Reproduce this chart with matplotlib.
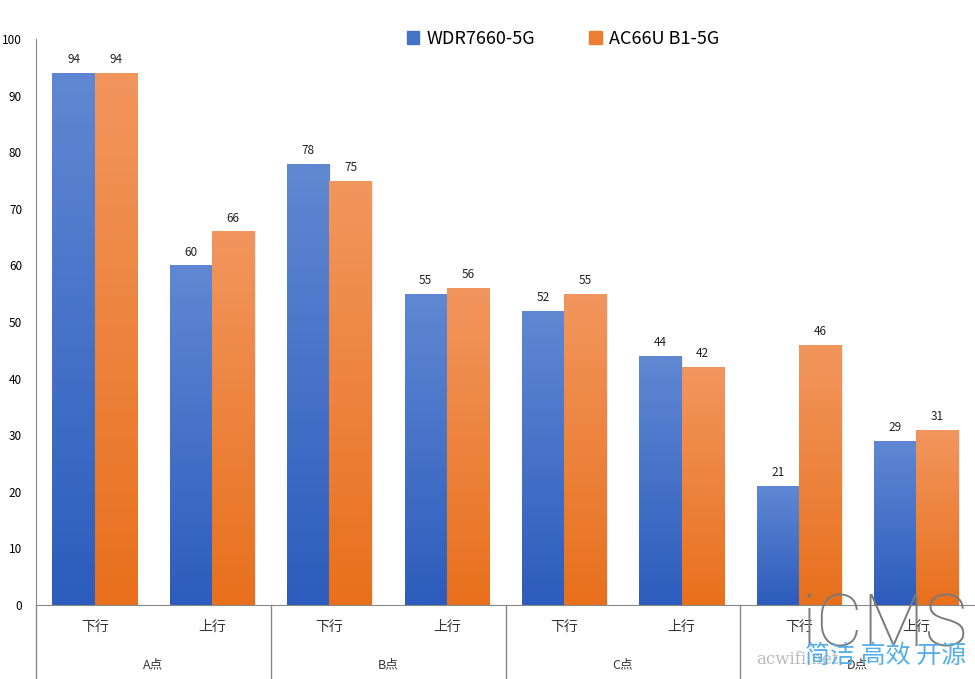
import numpy as np
import matplotlib.pyplot as plt
from matplotlib.colors import LinearSegmentedColormap
from matplotlib.lines import Line2D
from matplotlib.patches import Patch

plt.rcParams['font.family'] = ['Noto Sans CJK SC', 'DejaVu Sans']

# data
groups = ['A点', 'B点', 'C点', 'D点']
directions = ['下行', '上行']
series = ['WDR7660-5G', 'AC66U B1-5G']
wdr = [94, 60, 78, 55, 52, 44, 21, 29]
ac66u = [94, 66, 75, 56, 55, 42, 46, 31]
yticks = [0, 10, 20, 30, 40, 50, 60, 70, 80, 90, 100]

blue_top, blue_bot = '#6088D2', '#2C5CBD'
orange_top, orange_bot = '#F2965E', '#E8701C'

fig = plt.figure(figsize=(9.75, 6.79), dpi=100)
ax = fig.add_axes([36 / 975, 1 - 605 / 679, 1 - 36 / 975, (605 - 39) / 679])

n = len(wdr)
x = np.arange(n)
w = 0.36

def grad_bars(xpos, vals, top, bot):
    bars = ax.bar(xpos, vals, w, color='none', edgecolor='none')
    cmap = LinearSegmentedColormap.from_list('g', [bot, top])
    grad = np.linspace(0, 1, 256).reshape(-1, 1)
    for b in bars:
        bx, by = b.get_x(), b.get_y()
        bw, bh = b.get_width(), b.get_height()
        # faint shadow on the right edge
        ax.add_patch(plt.Rectangle((bx + 0.012, by), bw, bh, color='#000000', alpha=0.08, lw=0, zorder=1))
        im = ax.imshow(grad, cmap=cmap, origin='lower', aspect='auto',
                       extent=(bx, bx + bw, by, by + bh), zorder=2)
        im.set_clip_path(b)
    return bars

b1 = grad_bars(x - w / 2, wdr, blue_top, blue_bot)
b2 = grad_bars(x + w / 2, ac66u, orange_top, orange_bot)

for xi, v in zip(x - w / 2, wdr):
    ax.text(xi, v + 1.2, str(v), ha='center', va='bottom', fontsize=8.5, color='#222222')
for xi, v in zip(x + w / 2, ac66u):
    ax.text(xi, v + 1.2, str(v), ha='center', va='bottom', fontsize=8.5, color='#222222')

ax.set_xlim(-0.5, n - 0.5)
ax.set_ylim(0, 100)
ax.set_yticks(yticks)
ax.tick_params(axis='y', length=0, labelsize=8.5, pad=10)
ax.set_xticks([])
for s in ['top', 'right']:
    ax.spines[s].set_visible(False)
ax.spines['left'].set_color('#888888')
ax.spines['bottom'].set_color('#888888')
ax.spines['left'].set_bounds(0, 100)

# multi-level category axis
trans = ax.get_xaxis_transform()
for i in range(n):
    ax.text(i, -0.038, directions[i % 2], transform=trans, ha='center', va='center', fontsize=10, color='#333333')
for g, name in enumerate(groups):
    ax.text(2 * g + 0.5, -0.105, name, transform=trans, ha='center', va='center', fontsize=9, color='#333333')
for sep in [-0.5, 1.5, 3.5, 5.5]:
    ax.add_line(Line2D([sep, sep], [0, -0.14], transform=trans, color='#888888', lw=1, clip_on=False))

# legend
handles = [Patch(color='#4472C4'), Patch(color='#ED7D31')]
fig.legend(handles, series, loc='center', bbox_to_anchor=(563 / 975, 1 - 39 / 679), ncol=2,
           frameon=False, fontsize=13, handlelength=0.7, handleheight=0.7, columnspacing=3, handletextpad=0.4)

# watermark
fig.text(885 / 975, 1 - 627 / 679, 'iCMS', ha='center', va='center', fontsize=52, color='#7A7A7A',
         family=['Roboto', 'DejaVu Sans'], fontweight='light')
fig.text(756 / 975, 1 - 660 / 679, 'acwifi.net', ha='left', va='center', fontsize=12, color='#BBBBBB',
         family=['DejaVu Serif'])
fig.text(886 / 975, 1 - 656 / 679, '简洁 高效 开源', ha='center', va='center', fontsize=18, color='#55AEE8')

fig.savefig('out.png', dpi=100)
